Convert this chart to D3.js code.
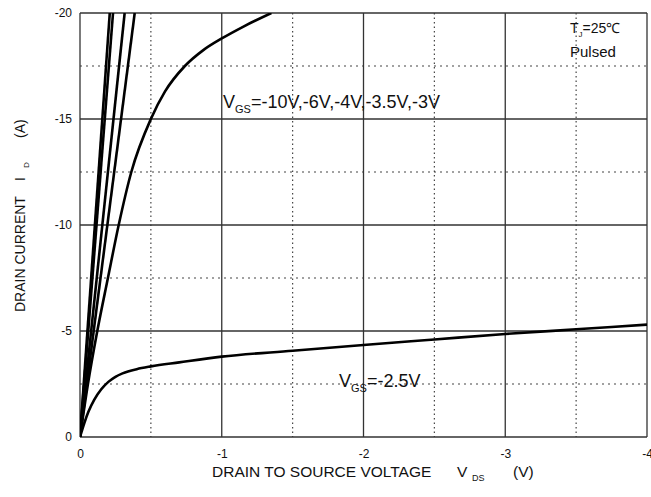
<!DOCTYPE html>
<html>
<head>
<meta charset="utf-8">
<script src="https://cdn.jsdelivr.net/npm/d3@7"></script>
<style>
  body { margin: 0; background: #fff; }
  text { font-family: "Liberation Sans", Arial, sans-serif; fill: #111; }
</style>
</head>
<body>
<div id="chart"></div>
<script>
// tick values
const xTicks = [0, -1, -2, -3, -4];
const yTicks = [0, -5, -10, -15, -20];
const xMinor = [-0.5, -1.5, -2.5, -3.5];
const yMinor = [-2.5, -7.5, -12.5, -17.5];

// curves (V, A)
const vgs10 = [[0, 0], [-0.21, -20]];
const vgs6 = [[0, 0], [-0.233, -20]];
const vgs4 = [[0, 0], [-0.315, -20]];
const vgs35 = [[0, 0], [-0.386, -20]];
const vgs3 = [[0, 0], [-0.056, -2.5], [-0.122, -5], [-0.197, -7.5], [-0.273, -10], [-0.362, -12.5],
    [-0.5, -15], [-0.6, -16.3], [-0.74, -17.5], [-0.87, -18.25], [-1.0, -18.8], [-1.15, -19.35], [-1.35, -20]];
const vgs25 = [[0, 0], [-0.03, -0.65], [-0.06, -1.2], [-0.1, -1.75], [-0.15, -2.25], [-0.2, -2.6],
    [-0.25, -2.84], [-0.3, -3.0], [-0.4, -3.2], [-0.5, -3.33], [-0.7, -3.52], [-1.0, -3.79],
    [-1.5, -4.07], [-2.0, -4.34], [-2.5, -4.6], [-3.0, -4.86], [-3.5, -5.08], [-4.0, -5.3]];

const curves = [vgs10, vgs6, vgs4, vgs35, vgs3, vgs25];

const margin = {top: 13, right: 4, bottom: 60, left: 80};
const width = 651 - margin.left - margin.right,
    height = 497 - margin.top - margin.bottom;

const root = d3.select('#chart').append('svg')
    .attr('width', 651)
    .attr('height', 497);
const svg = root.append('g')
    .attr('transform', 'translate(' + margin.left + ',' + margin.top + ')');

const x = d3.scaleLinear().domain([0, -4]).range([0, width]);
const y = d3.scaleLinear().domain([0, -20]).range([height, 0]);

svg.append('defs').append('clipPath').attr('id', 'clip')
    .append('rect').attr('width', width).attr('height', height);

// dotted grid
svg.selectAll('.vminor').data(xMinor).enter().append('line')
    .attr('x1', d => x(d)).attr('x2', d => x(d))
    .attr('y1', 0).attr('y2', height)
    .style('stroke', '#444').style('stroke-width', 1.2).style('stroke-dasharray', '1.5,3');
svg.selectAll('.hminor').data(yMinor).enter().append('line')
    .attr('x1', 0).attr('x2', width)
    .attr('y1', d => y(d)).attr('y2', d => y(d))
    .style('stroke', '#444').style('stroke-width', 1.2).style('stroke-dasharray', '2,4');

// solid grid
svg.selectAll('.vmajor').data(xTicks).enter().append('line')
    .attr('x1', d => x(d)).attr('x2', d => x(d))
    .attr('y1', 0).attr('y2', height)
    .style('stroke', '#333').style('stroke-width', 1.3);
svg.selectAll('.hmajor').data(yTicks).enter().append('line')
    .attr('x1', 0).attr('x2', width)
    .attr('y1', d => y(d)).attr('y2', d => y(d))
    .style('stroke', '#333').style('stroke-width', 1.3);

// axes (labels only)
const fmt = d => d === 0 ? '0' : String(d);
const xAxis = svg.append('g')
    .attr('transform', 'translate(0,' + height + ')')
    .call(d3.axisBottom(x).tickValues(xTicks).tickFormat(fmt).tickSize(0).tickPadding(12));
const yAxis = svg.append('g')
    .call(d3.axisLeft(y).tickValues(yTicks).tickFormat(fmt).tickSize(0).tickPadding(8));
[xAxis, yAxis].forEach(a => {
    a.select('.domain').remove();
    a.selectAll('text').style('font-size', '12px')
        .style('font-family', '"Liberation Sans", Arial, sans-serif').style('fill', '#111');
});

// curves
svg.append('g').attr('clip-path', 'url(#clip)')
    .selectAll('path').data(curves).enter().append('path')
    .attr('d', d => d3.line().x(p => x(p[0])).y(p => y(p[1])).curve(d3.curveMonotoneX)(d))
    .style('fill', 'none').style('stroke', '#000').style('stroke-width', 2.6);

// annotations (page coordinates)
const a1 = root.append('text').attr('x', 223).attr('y', 108).style('font-size', '18px');
a1.append('tspan').text('V');
a1.append('tspan').attr('dy', 5).style('font-size', '11px').text('GS');
a1.append('tspan').attr('dy', -5).text('=-10V,-6V,-4V,-3.5V,-3V');

const a2 = root.append('text').attr('x', 339).attr('y', 387).style('font-size', '18px');
a2.append('tspan').text('V');
a2.append('tspan').attr('dy', 5).style('font-size', '11px').text('GS');
a2.append('tspan').attr('dy', -5).text('=-2.5V');

const a3 = root.append('text').attr('x', 570).attr('y', 33).style('font-size', '14px');
a3.append('tspan').text('T');
a3.append('tspan').attr('dy', 4).style('font-size', '8px').text('J');
a3.append('tspan').attr('dy', -4).text('=25\u2103');
root.append('text').attr('x', 570).attr('y', 57).style('font-size', '15px').text('Pulsed');

// axis titles
root.append('text').attr('x', 212).attr('y', 477).style('font-size', '15.5px')
    .text('DRAIN TO SOURCE VOLTAGE');
root.append('text').attr('x', 457).attr('y', 477).style('font-size', '15.5px').text('V');
root.append('text').attr('x', 472).attr('y', 481).style('font-size', '9px').text('DS');
root.append('text').attr('x', 513).attr('y', 477).style('font-size', '15.5px').text('(V)');

const yt = root.append('g').attr('transform', 'translate(25,0) rotate(-90)');
yt.append('text').attr('x', -312).attr('y', 0).style('font-size', '14px').text('DRAIN CURRENT');
yt.append('text').attr('x', -181).attr('y', 0).style('font-size', '14px').text('I');
yt.append('text').attr('x', -168).attr('y', 4).style('font-size', '8px').text('D');
yt.append('text').attr('x', -138).attr('y', 0).style('font-size', '14px').text('(A)');
</script>
</body>
</html>
